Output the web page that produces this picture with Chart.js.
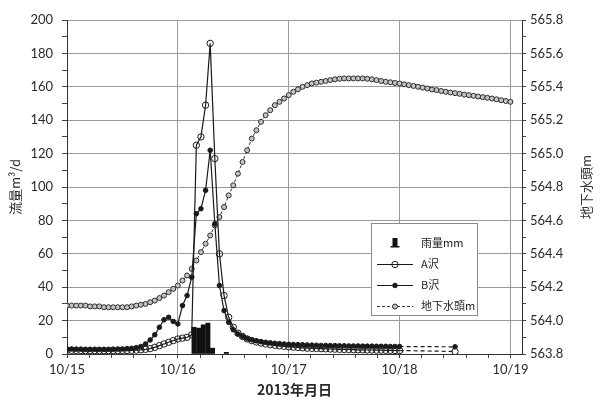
<!DOCTYPE html>
<html lang="ja">
<head>
<meta charset="UTF-8">
<title>流量・地下水頭</title>
<script src="https://cdn.jsdelivr.net/npm/chart.js@4.4.1/dist/chart.umd.min.js"></script>
<style>
  html, body { margin: 0; padding: 0; background: #fff; }
</style>
</head>
<body>
<canvas id="myChart" width="600" height="401"></canvas>
<script>
// hours counted from 2013-10-15 00:00
const dayLabels = ['10/15', '10/16', '10/17', '10/18', '10/19'];

const flowHours = [0, 1, 2, 3, 4, 5, 6, 7, 8, 9, 10, 11, 12, 13, 14, 15, 16, 17, 18, 19, 20, 21, 22, 23,
  24, 25, 26, 27, 28, 29, 30, 31, 32, 33, 34, 35, 36, 37, 38, 39, 40, 41, 42, 43, 44, 45, 46, 47,
  48, 49, 50, 51, 52, 53, 54, 55, 56, 57, 58, 59, 60, 61, 62, 63, 64, 65, 66, 67, 68, 69, 70, 71, 72, 84];

// A沢 m3/d
const flowA = [2.2, 2.2, 2.1, 2.1, 2.0, 2.0, 2.0, 2.0, 2.0, 2.0, 2.0, 2.0, 2.1, 2.1, 2.2, 2.3, 2.5, 2.8,
  3.2, 4.0, 5.0, 6.0, 7.0, 8.0, 9.0, 9.5, 10.0, 11.5,
  125, 130, 149, 186, 117, 60, 35, 22,
  16, 12.5, 10.5, 9.0, 8.0, 7.2, 6.6, 6.0, 5.6, 5.2, 4.9, 4.6,
  4.3, 4.1, 3.9, 3.7, 3.5, 3.4, 3.3, 3.2, 3.1, 3.0, 2.9, 2.8,
  2.7, 2.7, 2.6, 2.5, 2.5, 2.4, 2.4, 2.3, 2.3, 2.2, 2.2, 2.1, 2.1,
  1.5];

// B沢 m3/d
const flowB = [3.0, 3.0, 2.9, 2.9, 2.8, 2.8, 2.8, 2.8, 2.8, 2.8, 2.9, 3.0, 3.0, 3.2, 3.4,
  3.8, 4.5, 6.0, 8.4, 11.5, 16, 20.5, 22, 19.5, 18, 29, 35, 46,
  84, 87, 98, 122, 78, 41, 26, 19,
  14.5, 12, 10.5, 9.3, 8.5, 7.9, 7.4, 7.0, 6.7, 6.4, 6.2, 6.0,
  5.8, 5.7, 5.6, 5.5, 5.4, 5.3, 5.2, 5.1, 5.1, 5.0, 5.0, 4.9,
  4.9, 4.8, 4.8, 4.8, 4.7, 4.7, 4.7, 4.6, 4.6, 4.6, 4.5, 4.5, 4.5,
  4.3];

// 雨量 mm (hourly totals, plotted mid-hour)
const rainHours = [27.5, 28.5, 29.5, 30.5, 31.5, 34.5];
const rain = [16, 15.5, 17.5, 18.5, 3.5, 1];

const levelHours = [0, 1, 2, 3, 4, 5, 6, 7, 8, 9, 10, 11, 12, 13, 14, 15, 16, 17, 18, 19, 20, 21, 22, 23,
  24, 25, 26, 27, 28, 29, 30, 31, 32, 33, 34, 35, 36, 37, 38, 39, 40, 41, 42, 43, 44, 45, 46, 47,
  48, 49, 50, 51, 52, 53, 54, 55, 56, 57, 58, 59, 60, 61, 62, 63, 64, 65, 66, 67, 68, 69, 70, 71,
  72, 73, 74, 75, 76, 77, 78, 79, 80, 81, 82, 83, 84, 85, 86, 87, 88, 89, 90, 91, 92, 93, 94, 95, 96];

// 地下水頭 m
const level = [564.09, 564.09, 564.09, 564.09, 564.09, 564.085, 564.085, 564.085, 564.08, 564.08,
  564.08, 564.08, 564.08, 564.08, 564.085, 564.09, 564.095, 564.10, 564.11, 564.12,
  564.135, 564.15, 564.17, 564.19, 564.21, 564.24, 564.27, 564.31, 564.36, 564.41,
  564.46, 564.51, 564.57, 564.62, 564.68, 564.75, 564.81, 564.88, 564.95, 565.02,
  565.09, 565.14, 565.19, 565.23, 565.26, 565.29, 565.31, 565.33, 565.35, 565.37,
  565.385, 565.40, 565.41, 565.42, 565.425, 565.43, 565.435, 565.44, 565.445, 565.448,
  565.45, 565.45, 565.45, 565.45, 565.45, 565.448, 565.445, 565.44, 565.435, 565.43,
  565.427, 565.423, 565.42, 565.415, 565.41, 565.405, 565.40, 565.395, 565.39, 565.384,
  565.38, 565.375, 565.37, 565.366, 565.362, 565.358, 565.353, 565.35, 565.346, 565.342,
  565.338, 565.334, 565.33, 565.325, 565.32, 565.315, 565.31];

function pts(xs, ys) {
  return xs.map((x, i) => ({ x: x, y: ys[i] }));
}

const numFont = { family: 'Lato, "Liberation Sans", sans-serif', size: 13 };
const jpFont = '"Noto Sans CJK JP", sans-serif';
const gridGray = '#9a9a9a';

// gap in the record is drawn dashed
const gapDash = c => (c.p1.parsed.x - c.p0.parsed.x > 1 ? [4, 3] : undefined);

// legend box inside the plot + right axis title
const boxLegend = {
  id: 'boxLegend',
  afterDraw(chart) {
    const ctx = chart.ctx;
    const x0 = 371, y0 = 223, w = 106, h = 92;
    ctx.save();
    ctx.fillStyle = '#fff';
    ctx.fillRect(x0, y0, w, h);
    ctx.strokeStyle = '#8a8a8a';
    ctx.lineWidth = 1;
    ctx.strokeRect(x0 + 0.5, y0 + 0.5, w, h);

    chart.data.datasets.forEach((ds, i) => {
      const y = y0 + 20 + i * 21;
      const cx = 395;
      if (ds.type === 'bar') {
        ctx.fillStyle = ds.backgroundColor;
        ctx.fillRect(cx - 2.5, y - 5, 5, 8);
        ctx.fillRect(cx - 4.5, y + 3, 9, 1.5);
      } else {
        ctx.strokeStyle = ds.borderColor;
        ctx.lineWidth = ds.borderWidth;
        ctx.setLineDash(ds.borderDash || []);
        ctx.beginPath();
        ctx.moveTo(377, y + 0.5);
        ctx.lineTo(413, y + 0.5);
        ctx.stroke();
        ctx.setLineDash([]);
        ctx.beginPath();
        ctx.arc(cx, y + 0.5, ds.pointRadius, 0, Math.PI * 2);
        ctx.fillStyle = ds.pointBackgroundColor;
        ctx.fill();
        ctx.lineWidth = ds.pointBorderWidth;
        ctx.strokeStyle = ds.pointBorderColor;
        ctx.stroke();
      }
      ctx.fillStyle = '#222';
      ctx.font = '11px ' + jpFont;
      ctx.textAlign = 'left';
      ctx.textBaseline = 'middle';
      ctx.fillText(ds.label, 421, y);
    });

    ctx.translate(586, 187);
    ctx.rotate(-Math.PI / 2);
    ctx.fillStyle = '#333';
    ctx.font = '13px ' + jpFont;
    ctx.textAlign = 'center';
    ctx.textBaseline = 'middle';
    ctx.fillText('地下水頭m', 0, 0);
    ctx.restore();
  }
};

new Chart(document.getElementById('myChart'), {
  data: {
    datasets: [
      {
        type: 'bar',
        label: '雨量mm',
        data: pts(rainHours, rain),
        backgroundColor: '#111',
        barThickness: 4.3,
        yAxisID: 'y',
        order: 10
      },
      {
        type: 'line',
        label: 'A沢',
        data: pts(flowHours, flowA),
        borderColor: '#1a1a1a',
        borderWidth: 1.2,
        pointRadius: 3.2,
        pointBackgroundColor: 'rgba(255,255,255,0)',
        pointBorderColor: '#1a1a1a',
        pointBorderWidth: 1,
        segment: { borderDash: gapDash },
        yAxisID: 'y'
      },
      {
        type: 'line',
        label: 'B沢',
        data: pts(flowHours, flowB),
        borderColor: '#1a1a1a',
        borderWidth: 1.2,
        pointRadius: 2.3,
        pointBackgroundColor: '#1a1a1a',
        pointBorderColor: '#1a1a1a',
        pointBorderWidth: 1,
        segment: { borderDash: gapDash },
        yAxisID: 'y'
      },
      {
        type: 'line',
        label: '地下水頭m',
        data: pts(levelHours, level),
        borderColor: '#333',
        borderWidth: 1,
        borderDash: [3, 2],
        pointRadius: 2.5,
        pointBackgroundColor: '#c4c4c4',
        pointBorderColor: '#2a2a2a',
        pointBorderWidth: 1,
        yAxisID: 'y2'
      }
    ]
  },
  options: {
    responsive: false,
    animation: false,
    layout: { padding: { top: 20 } },
    plugins: {
      legend: { display: false },
      tooltip: { enabled: false }
    },
    scales: {
      x: {
        type: 'linear',
        min: 0,
        max: 98.5,
        offset: false,
        afterFit: s => { s.height = 47; },
        border: { color: '#333', width: 1 },
        grid: {
          offset: false,
          color: c => (c.tick && Math.abs(c.tick.value % 24) < 0.01 ? gridGray : 'rgba(0,0,0,0)'),
          tickColor: '#444',
          tickLength: 4
        },
        ticks: {
          stepSize: 4.8,
          includeBounds: false,
          autoSkip: false,
          maxRotation: 0,
          minRotation: 0,
          padding: 4,
          color: '#2a2a2a',
          font: numFont,
          callback: v => (Math.abs(v % 24) < 0.01 ? dayLabels[Math.round(v / 24)] : '')
        },
        title: {
          display: true,
          text: '2013年月日',
          color: '#2a2a2a',
          font: { family: jpFont, size: 14, weight: 'bold' },
          padding: { top: 0, bottom: 3 }
        }
      },
      y: {
        position: 'left',
        min: 0,
        max: 200,
        afterFit: s => { s.width = 67; },
        border: { color: '#333', width: 1 },
        grid: {
          color: c => (c.tick && c.tick.value % 20 === 0 ? gridGray : 'rgba(0,0,0,0)'),
          tickColor: '#444',
          tickLength: 5
        },
        ticks: {
          stepSize: 10,
          autoSkip: false,
          padding: 9,
          color: '#2a2a2a',
          font: numFont,
          callback: v => (v % 20 === 0 ? v : '')
        },
        title: {
          display: true,
          text: '流量m³/d',
          color: '#2a2a2a',
          font: { family: jpFont, size: 13 },
          padding: { top: 7, bottom: 0 }
        }
      },
      y2: {
        position: 'right',
        min: 563.8,
        max: 565.8,
        afterFit: s => { s.width = 78; },
        border: { color: '#333', width: 1 },
        grid: {
          drawOnChartArea: false,
          tickColor: '#444',
          tickLength: 4
        },
        ticks: {
          stepSize: 0.1,
          autoSkip: false,
          padding: 4,
          color: '#2a2a2a',
          font: numFont,
          callback: v => (Math.round((v - 563.8) * 10) % 2 === 0 ? v.toFixed(1) : '')
        }
      }
    }
  },
  plugins: [boxLegend]
});
</script>
</body>
</html>
